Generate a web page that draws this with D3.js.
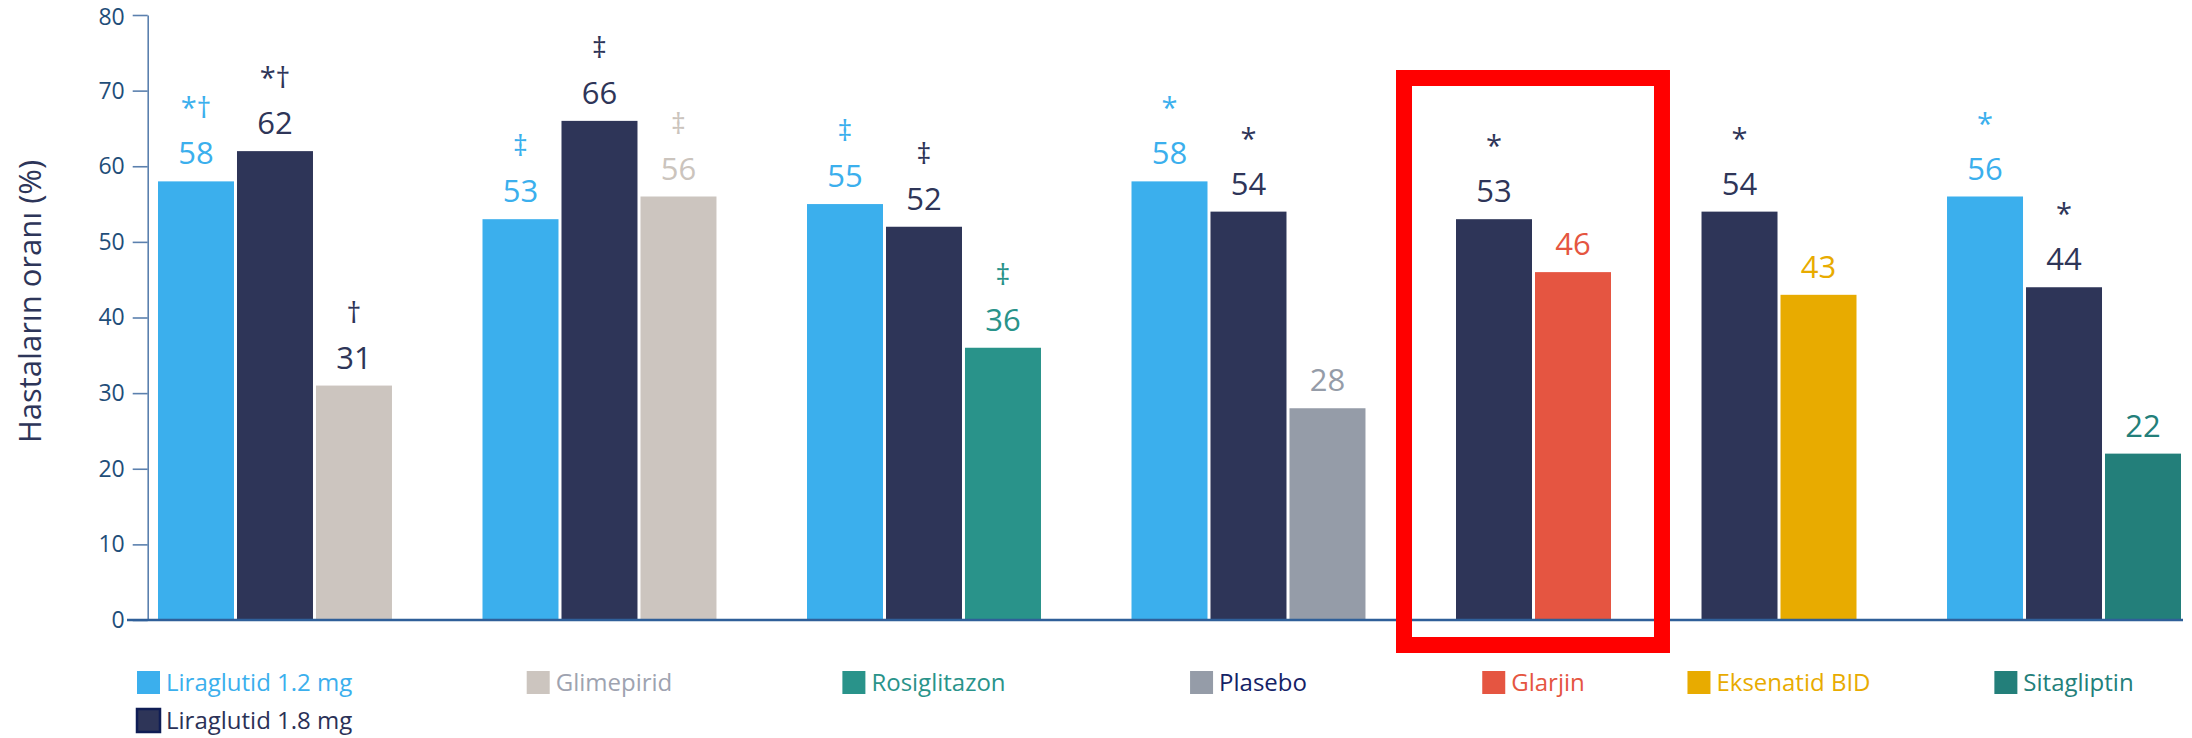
<!DOCTYPE html>
<html>
<head>
<meta charset="utf-8">
<script src="https://cdn.jsdelivr.net/npm/d3@7"></script>
<style>
  html, body { margin: 0; padding: 0; background: #ffffff; }
  svg { display: block; font-family: "Open Sans", sans-serif; }
</style>
</head>
<body>
<svg id="chart" width="2192" height="738"></svg>
<script>
// ---- data ---------------------------------------------------------------
// one entry per study group; bars listed left to right
const groupIds = [1, 2, 3, 4, 5, 6, 7];
const barSeries = [
  ["Liraglutid 1.2 mg", "Liraglutid 1.8 mg", "Glimepirid"],
  ["Liraglutid 1.2 mg", "Liraglutid 1.8 mg", "Glimepirid"],
  ["Liraglutid 1.2 mg", "Liraglutid 1.8 mg", "Rosiglitazon"],
  ["Liraglutid 1.2 mg", "Liraglutid 1.8 mg", "Plasebo"],
  ["Liraglutid 1.8 mg", "Glarjin"],
  ["Liraglutid 1.8 mg", "Eksenatid BID"],
  ["Liraglutid 1.2 mg", "Liraglutid 1.8 mg", "Sitagliptin"]
];
const barValues = [
  [58, 62, 31],
  [53, 66, 56],
  [55, 52, 36],
  [58, 54, 28],
  [53, 46],
  [54, 43],
  [56, 44, 22]
];
const barMarks = [
  ["*†", "*†", "†"],
  ["‡", "‡", "‡"],
  ["‡", "‡", "‡"],
  ["*", "*", ""],
  ["*", ""],
  ["*", ""],
  ["*", "*", ""]
];
// legend entries shown under each group
const legendEntries = [
  ["Liraglutid 1.2 mg", "Liraglutid 1.8 mg"],
  ["Glimepirid"],
  ["Rosiglitazon"],
  ["Plasebo"],
  ["Glarjin"],
  ["Eksenatid BID"],
  ["Sitagliptin"]
];
const yTicks = [0, 10, 20, 30, 40, 50, 60, 70, 80];
const yTitle = "Hastaların oranı (%)";
const highlightedGroup = 5;

// ---- styles -------------------------------------------------------------
const NAVY = "#2e3558";
const barFill = {
  "Liraglutid 1.2 mg": "#3bafed",
  "Liraglutid 1.8 mg": NAVY,
  "Glimepirid": "#ccc5bf",
  "Rosiglitazon": "#29938a",
  "Plasebo": "#959ca8",
  "Glarjin": "#e55541",
  "Eksenatid BID": "#e8ab00",
  "Sitagliptin": "#237f7a"
};
const labelInk = {
  "Liraglutid 1.2 mg": "#3bafed",
  "Liraglutid 1.8 mg": NAVY,
  "Glimepirid": "#cbc4bd",
  "Rosiglitazon": "#29938a",
  "Plasebo": "#959ca8",
  "Glarjin": "#e55541",
  "Eksenatid BID": "#e8ab00",
  "Sitagliptin": "#237f7a"
};
const legendInk = {
  "Liraglutid 1.2 mg": "#3bafed",
  "Liraglutid 1.8 mg": "#2b3157",
  "Glimepirid": "#9ea3b0",
  "Rosiglitazon": "#29938a",
  "Plasebo": "#142266",
  "Glarjin": "#e55541",
  "Eksenatid BID": "#e8ab00",
  "Sitagliptin": "#237f7a"
};
// the comparator in the first group carries navy annotations
const inkFor = (gi, series) => (gi === 0 && series === "Glimepirid") ? NAVY : labelInk[series];

// ---- layout -------------------------------------------------------------
const svg = d3.select("#chart");
const y = d3.scaleLinear().domain([0, 80]).range([620, 15]);

// bars sit side by side; each new group adds a gap of gapUnits slots
const gapUnits = 1.108;
const barFrac = 0.962;
const bars = [];
let slot = 0;
barSeries.forEach((list, gi) => {
  list.forEach((series, bi) => {
    bars.push({
      gi, bi, series,
      value: barValues[gi][bi],
      mark: barMarks[gi][bi],
      u: slot + gi * gapUnits
    });
    slot++;
  });
});
const uMax = bars[bars.length - 1].u + barFrac;
const x = d3.scaleLinear().domain([0, uMax]).range([158, 2181]);
const barW = x(barFrac) - x(0);

const groupExtent = groupIds.map((id, gi) => {
  const gb = bars.filter(b => b.gi === gi);
  return { left: x(gb[0].u), right: x(gb[gb.length - 1].u) + barW };
});

// ---- bars ---------------------------------------------------------------
svg.append("g").selectAll("rect")
  .data(bars)
  .join("rect")
  .attr("x", d => x(d.u))
  .attr("y", d => y(d.value))
  .attr("width", barW)
  .attr("height", d => y(0) - y(d.value))
  .attr("fill", d => barFill[d.series]);

// ---- value labels and significance marks -------------------------------
const labels = svg.append("g").attr("text-anchor", "middle");
labels.selectAll("text.value")
  .data(bars)
  .join("text")
  .attr("class", "value")
  .attr("x", d => x(d.u) + barW / 2)
  .attr("y", d => y(d.value) - 17)
  .attr("font-size", 31)
  .attr("fill", d => inkFor(d.gi, d.series))
  .text(d => d.value);

labels.selectAll("text.mark")
  .data(bars.filter(d => d.mark))
  .join("text")
  .attr("class", "mark")
  .attr("x", d => x(d.u) + barW / 2)
  .attr("y", d => y(d.value) - 17 - 46)
  .attr("font-size", 29)
  .attr("fill", d => inkFor(d.gi, d.series))
  .text(d => d.mark);

// ---- axes ---------------------------------------------------------------
const yAxis = svg.append("g")
  .attr("transform", "translate(147.7,0)")
  .call(d3.axisLeft(y).tickValues(yTicks).tickSize(15).tickSizeOuter(0).tickPadding(8));
yAxis.select(".domain").attr("stroke", "#5b80ae").attr("stroke-width", 1.6);
yAxis.selectAll(".tick line").attr("stroke", "#5b80ae").attr("stroke-width", 1.6);
yAxis.selectAll(".tick text")
  .attr("font-size", 23)
  .attr("font-family", "Open Sans, sans-serif")
  .attr("fill", "#1f4e79");
// keep the topmost label inside the canvas
yAxis.selectAll(".tick text").filter(d => d === 80).attr("dy", "0.42em");

// horizontal zero line
svg.append("line")
  .attr("x1", 127).attr("x2", x(uMax) + 2)
  .attr("y1", y(0)).attr("y2", y(0))
  .attr("stroke", "#2f5f99")
  .attr("stroke-width", 2.4);

svg.append("text")
  .attr("transform", `translate(41,${(y(0) + y(80)) / 2 - 16}) rotate(-90)`)
  .attr("text-anchor", "middle")
  .attr("font-size", 31)
  .attr("fill", "#2d3559")
  .text(yTitle);

// ---- highlight frame around one group -----------------------------------
const hg = groupExtent[highlightedGroup - 1];
svg.append("rect")
  .attr("x", hg.left - 52)
  .attr("y", y(80) + 63)
  .attr("width", (hg.right + 51) - (hg.left - 52))
  .attr("height", (y(0) + 25) - (y(80) + 63))
  .attr("fill", "none")
  .attr("stroke", "#ff0000")
  .attr("stroke-width", 16);

// ---- legend -------------------------------------------------------------
const SQ = 23;
const legend = svg.append("g");
legendEntries.forEach((entries, gi) => {
  const ext = groupExtent[gi];
  entries.forEach((name, ri) => {
    const top = 671 + ri * 38;
    const item = legend.append("g");
    const sq = item.append("rect")
      .attr("width", SQ).attr("height", SQ)
      .attr("y", top)
      .attr("fill", barFill[name]);
    if (name === "Liraglutid 1.8 mg") {
      sq.attr("stroke", "#0f1d55").attr("stroke-width", 2.5);
    }
    const label = item.append("text")
      .attr("y", top + SQ - 3)
      .attr("font-size", 24)
      .attr("fill", legendInk[name])
      .text(name);
    const tw = label.node().getComputedTextLength();
    let left;
    if (gi === 0) {
      left = ext.left - 21;
    } else {
      const center = (ext.left + ext.right) / 2;
      left = center - (SQ + 6 + tw) / 2;
    }
    sq.attr("x", left);
    label.attr("x", left + SQ + 6);
  });
});
</script>
</body>
</html>
